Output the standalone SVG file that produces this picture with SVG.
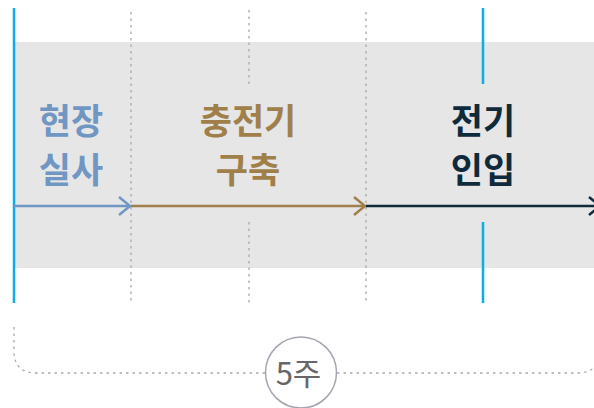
<svg xmlns="http://www.w3.org/2000/svg" width="594" height="408" viewBox="0 0 594 408">
<style>
.lbl{font-family:"Noto Sans CJK KR","Noto Sans",sans-serif;font-weight:700;font-size:35px;text-anchor:middle}
.dot{stroke:#a9a9ae;stroke-width:1.3;stroke-dasharray:2.5 4;fill:none}
.mark{stroke:#0aaee8;stroke-width:2.5;fill:none}
.arr{stroke-width:2.5;fill:none;stroke-linecap:butt}
.head{stroke-width:2.5;fill:none;stroke-linejoin:miter}
</style>
<rect x="14" y="42" width="580" height="226" fill="#e6e6e6"/>
<g id="guides">
<line class="dot" x1="131" y1="12" x2="131" y2="303"/>
<line class="dot" x1="249" y1="10" x2="249" y2="85"/>
<line class="dot" x1="249" y1="222" x2="249" y2="303"/>
<line class="dot" x1="366" y1="12" x2="366" y2="303"/>
<line class="mark" x1="14" y1="8" x2="14" y2="303"/>
<line class="mark" x1="483" y1="8" x2="483" y2="84"/>
<line class="mark" x1="483" y1="222" x2="483" y2="303"/>
</g>
<g id="connectors">
<line class="arr" x1="14" y1="206" x2="130" y2="206" stroke="#7097c4"/>
<polyline class="head" points="119,197 130,206 119,215" stroke="#7097c4"/>
<line class="arr" x1="131" y1="206" x2="365" y2="206" stroke="#a07f4a"/>
<polyline class="head" points="354,197 365,206 354,215" stroke="#a07f4a"/>
<line class="arr" x1="366" y1="206" x2="600" y2="206" stroke="#0e2a3b"/>
<polyline class="head" points="589,197 600,206 589,215" stroke="#0e2a3b"/>
</g>
<g id="node-survey">
<text class="lbl" x="71" y="134" fill="#7097c4">현장</text>
<text class="lbl" x="71" y="183" fill="#7097c4">실사</text>
</g>
<g id="node-build">
<text class="lbl" x="248" y="134" fill="#a07f4a">충전기</text>
<text class="lbl" x="248" y="183" fill="#a07f4a">구축</text>
</g>
<g id="node-power">
<text class="lbl" x="483" y="134" fill="#0e2a3b">전기</text>
<text class="lbl" x="483" y="183" fill="#0e2a3b">인입</text>
</g>
<g id="duration">
<path class="dot" d="M14,327 V351 Q14,373 36,373 H265"/>
<path class="dot" d="M337,373 H578 Q598,373 600,353"/>
<circle cx="301" cy="372.5" r="35.5" fill="#fff" stroke="#a5a7b0" stroke-width="1.5"/>
<text x="298.5" y="385" font-family="'Noto Sans CJK KR','Noto Sans',sans-serif" font-size="31" fill="#666" text-anchor="middle">5주</text>
</g>
</svg>
